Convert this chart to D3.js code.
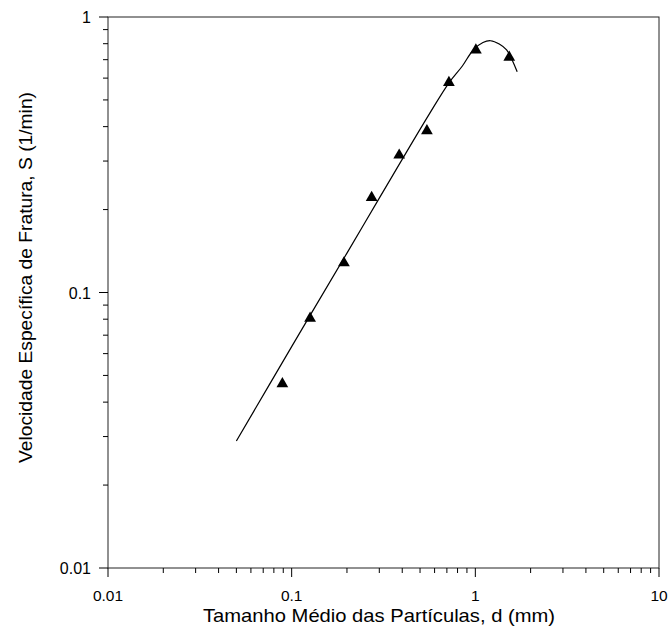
<!DOCTYPE html>
<html>
<head>
<meta charset="utf-8">
<script src="https://cdn.jsdelivr.net/npm/d3@7"></script>
<style>
  html, body { margin: 0; padding: 0; background: #fff; }
  svg { display: block; }
  text { font-family: "Liberation Sans", Arial, sans-serif; fill: #000; }
</style>
</head>
<body>
<svg id="chart" width="668" height="629"></svg>
<script>
// Measured data points (triangles)
const pointD = [0.089, 0.126, 0.1926, 0.2725, 0.385, 0.545, 0.718, 1.007, 1.53];
const pointS = [0.0466, 0.0806, 0.128, 0.221, 0.315, 0.386, 0.578, 0.759, 0.714];

// Fitted curve
const curveD = [0.05, 0.1, 0.2, 0.3, 0.56, 0.72, 0.85, 0.974, 1.1, 1.21, 1.35, 1.48, 1.69];
const curveS = [0.0289, 0.0636, 0.139, 0.220, 0.443, 0.578, 0.664, 0.759, 0.808, 0.820, 0.798, 0.759, 0.633];

const xTickLabels = ["0.01", "0.1", "1", "10"];
const yTickLabels = ["0.01", "0.1", "1"];

const xLabel = "Tamanho Médio das Partículas, d (mm)";
const yLabel = "Velocidade Específica de Fratura, S (1/min)";

const svg = d3.select("#chart");
const L = 108, R = 659, T = 17, B = 568;

const x = d3.scaleLog().domain([0.01, 10]).range([L, R]);
const y = d3.scaleLog().domain([0.01, 1]).range([B, T]);

// Frame
svg.append("rect")
  .attr("x", L).attr("y", T).attr("width", R - L).attr("height", B - T)
  .attr("fill", "none").attr("stroke", "#222").attr("stroke-width", 1);

// Ticks
const xMajor = xTickLabels.map(Number);
const yMajor = yTickLabels.map(Number);
const xMinor = [], yMinor = [];
xMajor.slice(0, -1).forEach(m => { for (let k = 2; k <= 9; k++) xMinor.push(m * k); });
yMajor.slice(0, -1).forEach(m => { for (let k = 2; k <= 9; k++) yMinor.push(m * k); });

const g = svg.append("g").attr("stroke", "#000").attr("stroke-width", 1);
xMajor.forEach(v => g.append("line").attr("x1", x(v)).attr("x2", x(v)).attr("y1", B).attr("y2", B + 9));
xMinor.forEach(v => g.append("line").attr("x1", x(v)).attr("x2", x(v)).attr("y1", B).attr("y2", B + 5));
yMajor.forEach(v => g.append("line").attr("y1", y(v)).attr("y2", y(v)).attr("x1", L).attr("x2", L - 9));
yMinor.forEach(v => g.append("line").attr("y1", y(v)).attr("y2", y(v)).attr("x1", L).attr("x2", L - 5));

// Tick labels
xTickLabels.forEach(t => {
  svg.append("text").attr("x", x(+t)).attr("y", B + 33)
    .attr("text-anchor", "middle").attr("font-size", 15.5).text(t);
});
yTickLabels.forEach(t => {
  svg.append("text").attr("x", L - 17).attr("y", y(+t) + 6)
    .attr("text-anchor", "end").attr("font-size", 16).text(t);
});

// Axis titles
svg.append("text").attr("x", 203).attr("y", 622)
  .attr("font-size", 19).attr("textLength", 352).attr("lengthAdjust", "spacingAndGlyphs")
  .text(xLabel);
svg.append("text")
  .attr("transform", `translate(32, 463) rotate(-90)`)
  .attr("font-size", 19).attr("textLength", 371).attr("lengthAdjust", "spacingAndGlyphs")
  .text(yLabel);

// Curve
const curveData = curveD.map((d, i) => [d, curveS[i]]);
svg.append("path")
  .datum(curveData)
  .attr("d", d3.line().x(d => x(d[0])).y(d => y(d[1])).curve(d3.curveCatmullRom.alpha(0.5)))
  .attr("fill", "none").attr("stroke", "#000").attr("stroke-width", 1.2);

// Points
const pts = pointD.map((d, i) => [d, pointS[i]]);
svg.selectAll("path.pt").data(pts).enter().append("path")
  .attr("class", "pt")
  .attr("transform", d => `translate(${x(d[0])},${y(d[1])})`)
  .attr("d", d3.symbol().type(d3.symbolTriangle).size(60))
  .attr("fill", "#000");
</script>
</body>
</html>
